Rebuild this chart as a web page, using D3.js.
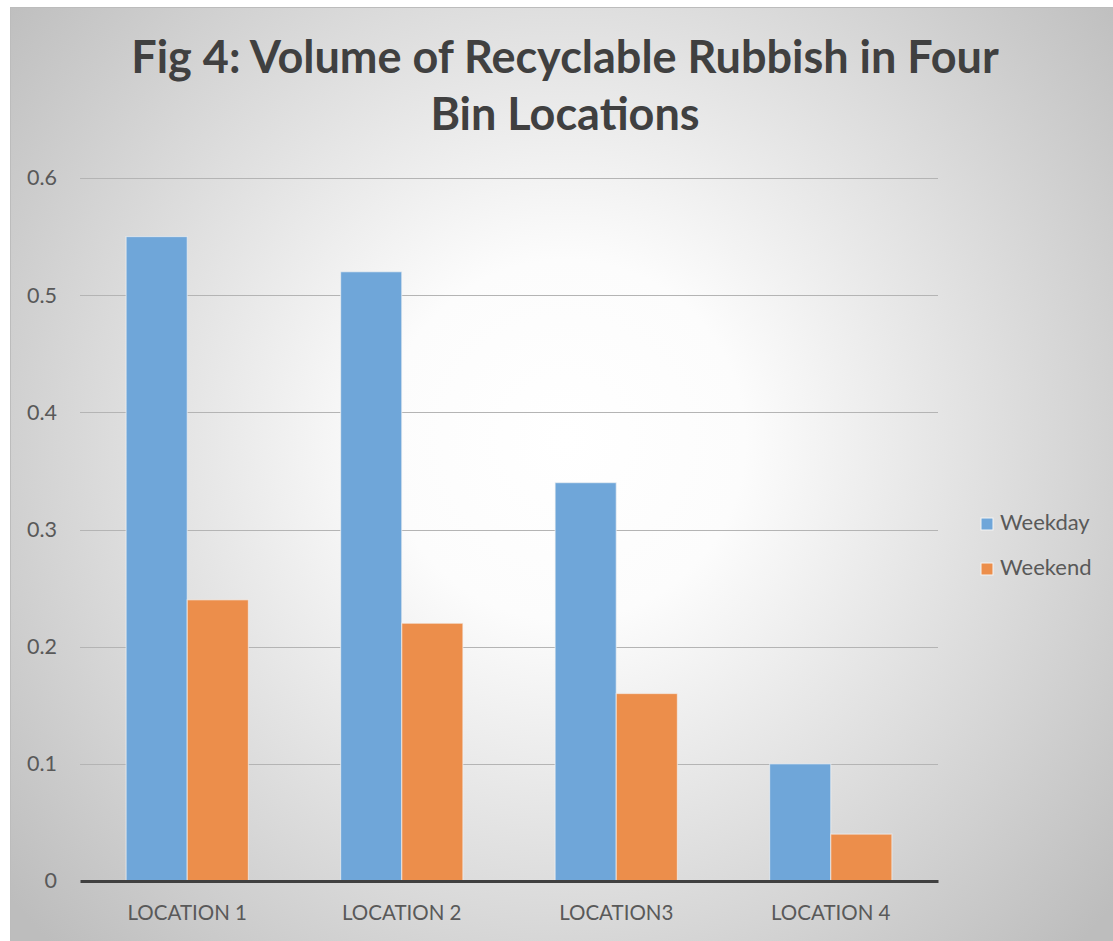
<html>
<head>
<meta charset="utf-8">
<title>Fig 4</title>
<script src="https://d3js.org/d3.v7.min.js"></script>
<style>
  body { margin: 0; background: #fff; }
  text { font-family: Lato, "Open Sans", sans-serif; }
</style>
</head>
<body>
<div id="chart"></div>
<script>
var categories = ["LOCATION 1", "LOCATION 2", "LOCATION3", "LOCATION 4"];
var seriesNames = ["Weekday", "Weekend"];
var weekday = [0.55, 0.52, 0.34, 0.10];
var weekend = [0.24, 0.22, 0.16, 0.04];
var yTicks = [0, 0.1, 0.2, 0.3, 0.4, 0.5, 0.6];
var colors = ["#6fa6d9", "#ec8e4b"];
var titleLines = ["Fig 4: Volume of Recyclable Rubbish in Four", "Bin Locations"];

var width = 1113, height = 941;
var plot = {left: 80, right: 938, top: 178, bottom: 881};

var svg = d3.select("#chart").append("svg")
    .attr("width", width).attr("height", height);

var defs = svg.append("defs");
var grad = defs.append("radialGradient").attr("id", "bg")
    .attr("gradientUnits", "userSpaceOnUse")
    .attr("cx", 565).attr("cy", 440).attr("r", 720);
grad.append("stop").attr("offset", "0%").attr("stop-color", "#ffffff");
grad.append("stop").attr("offset", "25%").attr("stop-color", "#fcfcfc");
grad.append("stop").attr("offset", "100%").attr("stop-color", "#bdbdbd");

// chart area (cropped on the right and bottom)
svg.append("rect")
    .attr("x", 10.5).attr("y", 7.5)
    .attr("width", 1130).attr("height", 960)
    .attr("fill", "url(#bg)")
    .attr("stroke", "#bcbcbc").attr("stroke-width", 1);

// title
svg.append("text")
    .attr("x", 565).attr("y", 73)
    .attr("text-anchor", "middle")
    .attr("font-size", 45).attr("font-weight", "bold")
    .attr("fill", "#404040")
  .selectAll("tspan").data(titleLines).enter().append("tspan")
    .attr("x", 565)
    .attr("dy", function (d, i) { return i === 0 ? 0 : 57; })
    .text(function (d) { return d; });

var x0 = d3.scaleBand().domain(categories)
    .range([plot.left, plot.right]).paddingInner(0.43).paddingOuter(0.215);
var x1 = d3.scaleBand().domain(seriesNames)
    .range([0, x0.bandwidth()]).padding(0);
var y = d3.scaleLinear().domain([0, 0.6]).range([plot.bottom, plot.top]);

// gridlines
svg.append("g").selectAll("line").data(yTicks.slice(1)).enter().append("line")
    .attr("x1", plot.left).attr("x2", plot.right)
    .attr("y1", function (d) { return Math.round(y(d)) + 0.5; })
    .attr("y2", function (d) { return Math.round(y(d)) + 0.5; })
    .attr("stroke", "#b4b4b4").attr("stroke-width", 1);

// y labels
var yAxis = d3.axisLeft(y).tickValues(yTicks).tickSize(0).tickPadding(23)
    .tickFormat(function (d) { return d === 0 ? "0" : d3.format(".1f")(d); });
var gy = svg.append("g").attr("transform", "translate(" + plot.left + ",0)").call(yAxis);
gy.select(".domain").remove();
gy.selectAll("text").attr("font-size", 21.5).attr("fill", "#595959")
    .style("font-family", "Lato, 'Open Sans', sans-serif");

// bars
var groups = svg.append("g").selectAll("g").data(categories).enter().append("g")
    .attr("transform", function (d) { return "translate(" + x0(d) + ",0)"; });
groups.selectAll("rect")
    .data(function (d, i) {
      return [{s: "Weekday", v: weekday[i], c: colors[0]}, {s: "Weekend", v: weekend[i], c: colors[1]}];
    })
    .enter().append("rect")
    .attr("x", function (d) { return x1(d.s); })
    .attr("y", function (d) { return y(d.v); })
    .attr("width", x1.bandwidth())
    .attr("height", function (d) { return y(0) - y(d.v); })
    .attr("fill", function (d) { return d.c; })
    .attr("stroke", "#f4f4f4").attr("stroke-width", 1.2).attr("stroke-opacity", 0.6);

// x axis
var xAxis = d3.axisBottom(x0).tickSize(0).tickPadding(24);
var gx = svg.append("g").attr("transform", "translate(0," + plot.bottom + ")").call(xAxis);
gx.select(".domain").attr("stroke", "#404040").attr("stroke-width", 3);
gx.selectAll("text").attr("font-size", 20.5).attr("fill", "#595959")
    .style("font-family", "Lato, 'Open Sans', sans-serif");

// legend
var legend = svg.append("g").selectAll("g").data(seriesNames).enter().append("g")
    .attr("transform", function (d, i) { return "translate(981," + (518 + i * 45) + ")"; });
legend.append("rect").attr("width", 12).attr("height", 12)
    .attr("fill", function (d, i) { return colors[i]; })
    .attr("stroke", "#f4f4f4").attr("stroke-width", 1);
legend.append("text").attr("x", 19).attr("y", 11.5)
    .attr("font-size", 22).attr("fill", "#595959")
    .text(function (d) { return d; });
</script>
</body>
</html>
